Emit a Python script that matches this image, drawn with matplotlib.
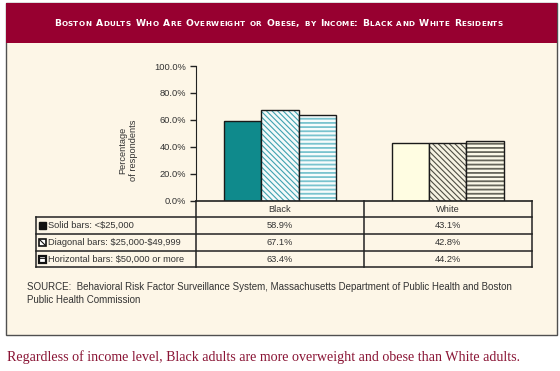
import matplotlib
matplotlib.use('Agg')
import matplotlib.pyplot as plt
from matplotlib.patches import Rectangle
import numpy as np

# ---------------- data ----------------
categories = ['Black', 'White']
income_labels = ['Solid bars: <$25,000',
                 'Diagonal bars: $25,000-$49,999',
                 'Horizontal bars: $50,000 or more']
under_25k = [58.9, 43.1]
from_25k_to_50k = [67.1, 42.8]
over_50k = [63.4, 44.2]
yticks = [0, 20, 40, 60, 80, 100]
title = 'Boston Adults Who Are Overweight or Obese, by Income: Black and White Residents'
source = ('SOURCE:  Behavioral Risk Factor Surveillance System, Massachusetts Department of Public Health and Boston\n'
          'Public Health Commission')
caption = 'Regardless of income level, Black adults are more overweight and obese than White adults.'

# ---------------- style ----------------
plt.rcParams['font.family'] = ['Liberation Sans', 'DejaVu Sans']
W, H = 560, 371
CREAM = '#FDF6E7'
MAROON = '#970030'
CAPTION = '#8A1535'
LINE = '#222222'
TXT = '#333333'

fig = plt.figure(figsize=(W / 100, H / 100), dpi=100)
fig.patch.set_facecolor('white')

bg = fig.add_axes([0, 0, 1, 1], zorder=0)
bg.set_xlim(0, W)
bg.set_ylim(H, 0)
bg.axis('off')

# frame and header
bg.add_patch(Rectangle((6, 3), 551, 332, facecolor=CREAM, edgecolor='#505050', lw=1.0))
bg.add_patch(Rectangle((6, 3), 551, 40, facecolor=MAROON, edgecolor='none'))

# ---------------- bars ----------------
ax = fig.add_axes([196 / W, 1 - 200.7 / H, 335.7 / W, 134.7 / H], zorder=1)
ax.set_facecolor('none')
ax.set_xlim(-0.5, 1.5)
ax.set_ylim(0, 100)
x = np.arange(len(categories))
bw = 0.222
series = [under_25k, from_25k_to_50k, over_50k]
hatches = [None, '\\\\\\\\\\\\', '----']
hatch_lws = [0.8, 0.8, 1.3]
faces = [['#0F8A8C', '#FFFDE2'], ['#F4FAFA', '#F6F3E2'], ['#F7FCFC', '#FBF9E8']]
hcols = [['#0F8A8C', '#FFFDE2'], ['#3FA2B0', '#4E4E44'], ['#79C3CE', '#66665A']]
for i, vals in enumerate(series):
    off = (i - 1) * bw
    plt.rcParams['hatch.linewidth'] = hatch_lws[i]
    ax.bar(x + off, vals, bw, color=faces[i], hatch=hatches[i], edgecolor=hcols[i], lw=0)
    ax.bar(x + off, vals, bw, fill=False, edgecolor='#1A1A1A', lw=1.0)

for s in ('top', 'right'):
    ax.spines[s].set_visible(False)
ax.spines['left'].set_color(LINE)
ax.spines['bottom'].set_color(LINE)
ax.spines['bottom'].set_linewidth(1.2)
ax.set_xticks([])
ax.set_yticks(yticks)
ax.set_yticklabels([f'{v:.1f}%' for v in yticks])
ax.tick_params(axis='y', length=4, width=1, pad=3, labelsize=6.7, color=LINE, labelcolor=TXT)

bg.text(128, 150, 'Percentage\nof respondents', rotation=90, ha='center', va='center',
        multialignment='center', fontsize=6.7, color=TXT, linespacing=1.3)

# ---------------- table ----------------
tx0, tx1, tx2, tx3 = 36, 196, 363.5, 531.7
ty = [200.7, 217.3, 234.0, 250.7, 267.3]
lwt = 1.1
for yy in ty[1:]:
    bg.plot([tx0, tx3], [yy, yy], color=LINE, lw=lwt, solid_capstyle='projecting')
bg.plot([tx0, tx0], [ty[1], ty[4]], color=LINE, lw=lwt)
for xx in (tx1, tx2, tx3):
    bg.plot([xx, xx], [ty[0], ty[4]], color=LINE, lw=lwt)

col_centers = [(tx1 + tx2) / 2, (tx2 + tx3) / 2]
for c, name in zip(col_centers, categories):
    bg.text(c, (ty[0] + ty[1]) / 2, name, ha='center', va='center', fontsize=6.7, color=TXT)
for r, vals in enumerate(series):
    yc = (ty[r + 1] + ty[r + 2]) / 2
    for c, v in zip(col_centers, vals):
        bg.text(c, yc, f'{v:.1f}%', ha='center', va='center', fontsize=6.7, color=TXT)
    bg.text(48.5, yc, income_labels[r], ha='left', va='center', fontsize=6.7, color=TXT,
            parse_math=False)

# legend keys
plt.rcParams['hatch.linewidth'] = 0.8
key_styles = [dict(facecolor='#111111', edgecolor='#111111', lw=1.0),
              dict(facecolor='white', edgecolor='#111111', lw=1.2, hatch='\\\\'),
              dict(facecolor='white', edgecolor='#111111', lw=1.6, hatch='---')]
for r, st in enumerate(key_styles):
    yc = (ty[r + 1] + ty[r + 2]) / 2
    bg.add_patch(Rectangle((39, yc - 3.5), 7, 7, **st))

# source
bg.text(27, 282, source, ha='left', va='top', fontsize=7, color=TXT, linespacing=1.35)

# caption
bg.text(7, 361.5, caption, ha='left', va='baseline', fontsize=10.05, color=CAPTION,
        family=['Liberation Serif', 'DejaVu Serif'])

# ---------------- small caps title ----------------
def small_caps(text, x0, x1, y_base, big, small):
    renderer = fig.canvas.get_renderer()
    items = []
    for ch in text:
        size = small if ch.islower() else big
        t = bg.text(0, y_base, ch.upper(), fontsize=size, fontweight='bold', color='white',
                    ha='left', va='baseline', family=['DejaVu Sans'])
        w = t.get_window_extent(renderer).width if ch != ' ' else size * 100 / 72 * 0.45
        items.append((t, w))
    total = sum(w for _, w in items)
    track = ((x1 - x0) - total) / max(len(items) - 1, 1)
    xx = x0
    for t, w in items:
        t.set_x(xx)
        xx += w + track

small_caps(title, 54, 503, 26, 6.6, 5.2)

fig.savefig('out.png', dpi=100, facecolor=fig.get_facecolor())
